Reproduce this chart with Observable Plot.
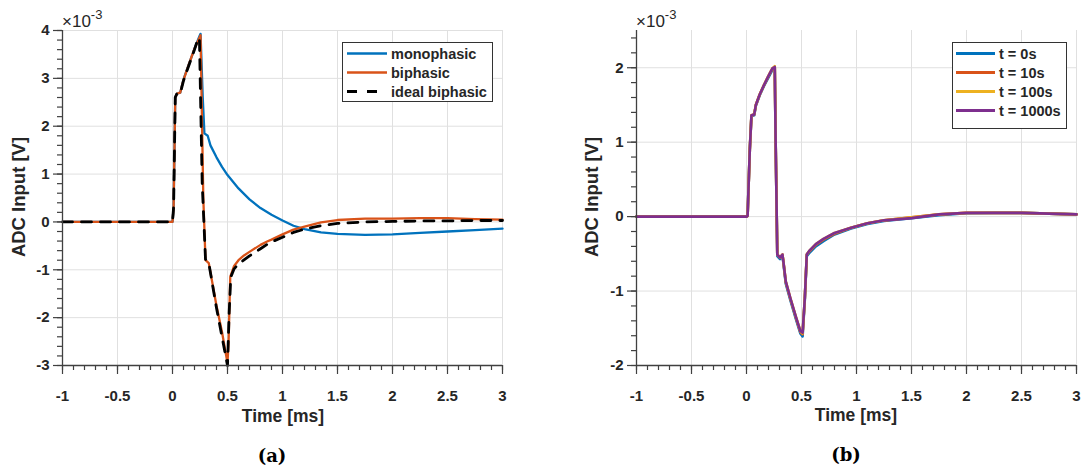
<!DOCTYPE html>
<html>
<head>
<meta charset="utf-8">
<script src="https://cdn.jsdelivr.net/npm/d3@7"></script>
<script src="https://cdn.jsdelivr.net/npm/@observablehq/plot@0.6"></script>
<style>
  body { margin: 0; background: #fff; }
  #wrap { position: relative; width: 1083px; height: 466px; overflow: hidden; }
  #wrap > svg, #wrap > figure { position: absolute; top: 0; margin: 0; }
</style>
</head>
<body>
<div id="wrap"></div>
<script>
// ---------- tick labels ----------
const xTicks = [-1, -0.5, 0, 0.5, 1, 1.5, 2, 2.5, 3];
const yTicksA = [-3, -2, -1, 0, 1, 2, 3, 4];
const yTicksB = [-2, -1, 0, 1, 2];

// ---------- panel (a): values in units of 1e-3 V, time in ms ----------
const monoT = [-1, 0, 0.01, 0.025, 0.04, 0.07, 0.10, 0.15, 0.20, 0.245, 0.255, 0.275, 0.29, 0.32, 0.345, 0.40, 0.45, 0.50, 0.60, 0.70, 0.80, 0.90, 1.00, 1.10, 1.20, 1.35, 1.50, 1.75, 2.00, 2.25, 2.50, 2.75, 3.00];
const monoV = [0, 0, 0.3, 2.6, 2.68, 2.7, 2.98, 3.3, 3.62, 3.88, 3.93, 2.6, 1.85, 1.8, 1.6, 1.35, 1.15, 0.98, 0.7, 0.47, 0.29, 0.15, 0.03, -0.08, -0.15, -0.22, -0.25, -0.27, -0.26, -0.23, -0.2, -0.17, -0.14];

const biT = [-1, 0, 0.01, 0.025, 0.04, 0.07, 0.10, 0.15, 0.20, 0.245, 0.255, 0.28, 0.30, 0.33, 0.40, 0.45, 0.50, 0.51, 0.525, 0.56, 0.60, 0.65, 0.71, 0.80, 0.86, 0.90, 1.0, 1.1, 1.2, 1.35, 1.5, 1.75, 2.0, 2.25, 2.5, 2.75, 3.0];
const biV = [0, 0, 0.3, 2.6, 2.68, 2.7, 2.97, 3.3, 3.62, 3.85, 3.9, 0.5, -0.8, -0.86, -1.75, -2.3, -2.95, -2.5, -1.15, -0.92, -0.8, -0.7, -0.61, -0.48, -0.41, -0.37, -0.26, -0.16, -0.1, -0.01, 0.04, 0.07, 0.07, 0.08, 0.08, 0.06, 0.05];

const idealT = [-1, 0, 0.01, 0.025, 0.04, 0.07, 0.10, 0.15, 0.20, 0.235, 0.245, 0.27, 0.30, 0.33, 0.40, 0.45, 0.50, 0.515, 0.53, 0.56, 0.6, 0.7, 0.8, 0.86, 0.9, 1.0, 1.1, 1.2, 1.35, 1.5, 1.75, 2.0, 2.25, 2.5, 2.75, 3.0];
const idealV = [0, 0, 0.3, 2.6, 2.68, 2.68, 2.95, 3.28, 3.6, 3.85, 3.8, 0.8, -0.78, -0.86, -1.8, -2.4, -3.0, -1.9, -1.15, -0.98, -0.88, -0.71, -0.56, -0.47, -0.42, -0.32, -0.22, -0.15, -0.08, -0.03, 0.0, 0.01, 0.02, 0.02, 0.03, 0.03];

// ---------- panel (b): values in units of 1e-3 V ----------
const bT = [-1, -0.5, 0, 0.01, 0.03, 0.045, 0.07, 0.085, 0.12, 0.16, 0.20, 0.236, 0.257, 0.265, 0.28, 0.305, 0.327, 0.335, 0.357, 0.40, 0.45, 0.49, 0.51, 0.53, 0.548, 0.57, 0.63, 0.7, 0.8, 0.95, 1.1, 1.25, 1.5, 1.75, 2.0, 2.25, 2.5, 2.75, 3.0];
const b0s    = [0, 0, 0, 0.01, 0.9, 1.35, 1.36, 1.49, 1.63, 1.76, 1.87, 1.97, 1.99, 1.0, -0.53, -0.57, -0.53, -0.62, -0.9, -1.13, -1.38, -1.57, -1.61, -1.12, -0.53, -0.49, -0.40, -0.33, -0.24, -0.16, -0.10, -0.06, -0.02, 0.02, 0.045, 0.05, 0.05, 0.04, 0.03];
const b10s   = [0, 0, 0, 0.01, 0.9, 1.36, 1.37, 1.5, 1.64, 1.77, 1.89, 1.99, 2.01, 1.0, -0.51, -0.55, -0.51, -0.6, -0.88, -1.11, -1.36, -1.55, -1.58, -1.1, -0.51, -0.47, -0.38, -0.31, -0.23, -0.15, -0.09, -0.05, -0.01, 0.03, 0.05, 0.05, 0.05, 0.04, 0.03];
const b100s  = [0, 0, 0, 0.01, 0.9, 1.36, 1.37, 1.5, 1.64, 1.77, 1.89, 1.99, 2.02, 1.0, -0.51, -0.55, -0.51, -0.6, -0.87, -1.1, -1.35, -1.54, -1.57, -1.1, -0.51, -0.46, -0.37, -0.30, -0.22, -0.15, -0.09, -0.05, -0.01, 0.03, 0.05, 0.05, 0.05, 0.04, 0.03];
const b1000s = [0, 0, 0, 0.01, 0.9, 1.36, 1.37, 1.5, 1.64, 1.77, 1.89, 1.99, 2.01, 1.0, -0.51, -0.55, -0.51, -0.6, -0.87, -1.1, -1.35, -1.54, -1.56, -1.1, -0.51, -0.46, -0.37, -0.30, -0.22, -0.15, -0.09, -0.05, -0.02, 0.03, 0.05, 0.05, 0.05, 0.04, 0.03];

const namesA = ["monophasic", "biphasic", "ideal biphasic"];
const namesB = ["t = 0s", "t = 10s", "t = 100s", "t = 1000s"];
const C = ["#0072BD", "#D95319", "#EDB120", "#7E2F8E"];

const rows = (T, V) => T.map((t, i) => ({t, v: V[i]}));
const r3 = d => Math.round(d * 1000) / 1000;
const xMinor = d3.range(-10, 31, 1).map(d => r3(d / 10));
const yMinorA = d3.range(-15, 21, 1).map(d => r3(d / 5));
const yMinorB = d3.range(-10, 13, 1).map(d => r3(d / 5));

const AX = "#404040";
const GRID = "#e0e0e0";
const FONT = "'Liberation Sans', Arial, Helvetica, sans-serif";

function panel({width, marginLeft, marginRight, yDomain, yTicks, yMinor, lines}) {
  return Plot.plot({
    width, height: 430, marginLeft, marginRight, marginTop: 30, marginBottom: 65,
    x: {domain: [-1, 3]},
    y: {domain: yDomain},
    style: {fontFamily: FONT, fontSize: "15px", fontWeight: "bold", color: "#262626", background: "transparent", overflow: "visible"},
    marks: [
      Plot.gridX(xTicks, {stroke: GRID, strokeOpacity: 1, strokeWidth: 1}),
      Plot.gridY(yTicks, {stroke: GRID, strokeOpacity: 1, strokeWidth: 1}),
      ...lines,
      Plot.axisX(xMinor, {tickSize: 5, text: null, stroke: AX, strokeWidth: 1.2, label: null}),
      Plot.axisX(xTicks, {tickSize: 9, text: null, stroke: AX, strokeWidth: 1.2, label: null}),
      Plot.axisY(yMinor, {tickSize: 5, text: null, stroke: AX, strokeWidth: 1.2, label: null}),
      Plot.axisY(yTicks, {tickSize: 9, text: null, stroke: AX, strokeWidth: 1.2, label: null}),
      Plot.text(xTicks, {x: d => d, frameAnchor: "bottom", dy: 31, text: d => String(d),
        lineAnchor: "middle", fill: "#262626", fontSize: 15, fontWeight: "bold"}),
      Plot.text(yTicks, {y: d => d, frameAnchor: "left", dx: -13, text: d => String(d),
        textAnchor: "end", lineAnchor: "middle", fill: "#262626", fontSize: 15, fontWeight: "bold"}),
      Plot.ruleX([-1], {stroke: AX, strokeWidth: 1.3}),
      Plot.ruleY([yDomain[0]], {stroke: AX, strokeWidth: 1.3})
    ]
  });
}

const wrap = document.getElementById("wrap");

const left = panel({
  width: 541, marginLeft: 62, marginRight: 39,
  yDomain: [-3, 4], yTicks: yTicksA, yMinor: yMinorA,
  lines: [
    Plot.line(rows(monoT, monoV), {x: "t", y: "v", stroke: C[0], strokeWidth: 2.3}),
    Plot.line(rows(biT, biV), {x: "t", y: "v", stroke: C[1], strokeWidth: 2.3}),
    Plot.line(rows(idealT, idealV), {x: "t", y: "v", stroke: "#000", strokeWidth: 2.8, strokeDasharray: "10,9"})
  ]
});
left.style.left = "0px";
wrap.appendChild(left);

const right = panel({
  width: 542, marginLeft: 95, marginRight: 7,
  yDomain: [-2, 2.5], yTicks: yTicksB, yMinor: yMinorB,
  lines: [b0s, b10s, b100s, b1000s].map((V, i) =>
    Plot.line(rows(bT, V), {x: "t", y: "v", stroke: C[i], strokeWidth: 2.6}))
});
right.style.left = "541px";
wrap.appendChild(right);

// ---------- overlay texts and legends ----------
const ov = d3.select(wrap).append("svg")
  .attr("width", 1083).attr("height", 466)
  .style("left", "0px").style("pointer-events", "none")
  .attr("font-family", FONT).attr("fill", "#262626");

function exponent(x) {
  const t = ov.append("text").attr("x", x).attr("y", 27).attr("font-size", 17);
  t.append("tspan").text("×10");
  t.append("tspan").attr("dy", -8).attr("font-size", 13).text("-3");
}
exponent(62);
exponent(636);

[[18, 197], [591, 197]].forEach(([x, y]) => {
  ov.append("text").attr("transform", `translate(${x},${y}) rotate(-90)`)
    .attr("text-anchor", "middle").attr("dominant-baseline", "central")
    .attr("font-size", 18.5).attr("font-weight", "bold").text("ADC Input [V]");
});
[[283, 416], [856, 415]].forEach(([x, y]) => {
  ov.append("text").attr("x", x).attr("y", y)
    .attr("text-anchor", "middle").attr("dominant-baseline", "central")
    .attr("font-size", 17.5).attr("font-weight", "bold").text("Time [ms]");
});
[[272, 455, "(a)"], [846, 454, "(b)"]].forEach(([x, y, s]) => {
  ov.append("text").attr("x", x).attr("y", y)
    .attr("text-anchor", "middle").attr("dominant-baseline", "central")
    .attr("font-family", "'DejaVu Serif', 'Liberation Serif', serif")
    .attr("font-size", 18).attr("font-weight", "bold").attr("fill", "#000").text(s);
});

function legend(x, y, w, h, lx0, lx1, tx, ys, names, styles) {
  ov.append("rect").attr("x", x).attr("y", y).attr("width", w).attr("height", h)
    .attr("fill", "#fff").attr("stroke", "#333").attr("stroke-width", 1);
  names.forEach((n, i) => {
    const s = styles[i];
    ov.append("line").attr("x1", lx0).attr("x2", lx1).attr("y1", ys[i]).attr("y2", ys[i])
      .attr("stroke", s.color).attr("stroke-width", s.width)
      .attr("stroke-dasharray", s.dash || null);
    ov.append("text").attr("x", tx).attr("y", ys[i]).attr("dominant-baseline", "central")
      .attr("font-size", 14.5).attr("font-weight", "bold").text(n);
  });
}
legend(342.5, 42.5, 150, 59, 347, 387, 391, [53.5, 72.5, 91.5], namesA,
  [{color: C[0], width: 2.5}, {color: C[1], width: 2.5}, {color: "#000", width: 3, dash: "10,10"}]);
legend(952.5, 42.5, 114, 86, 956, 995, 999, [53.5, 72.5, 91.5, 110.5], namesB,
  C.map(c => ({color: c, width: 2.8})));
</script>
</body>
</html>
